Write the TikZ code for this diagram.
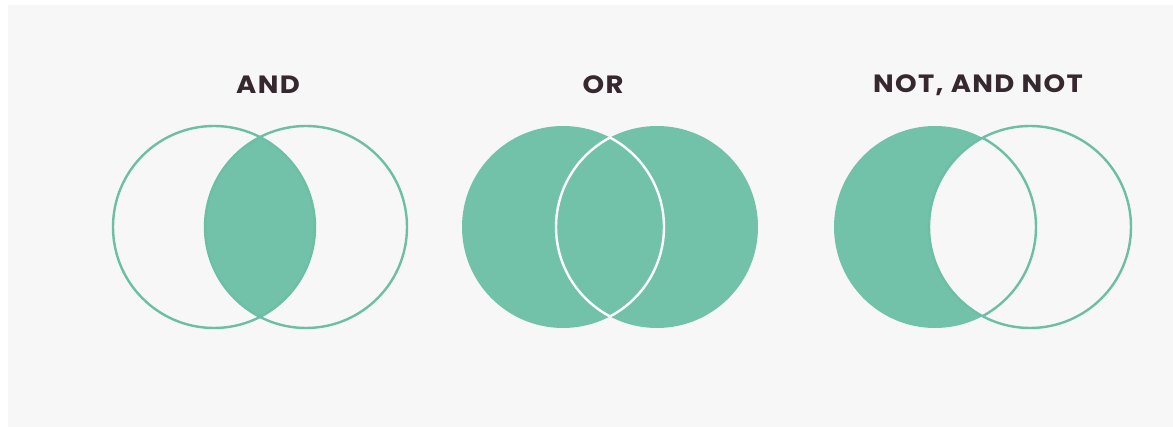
\documentclass[tikz,border=0pt]{standalone}
\usepackage{fontspec}
\newfontfamily\titlefont{Poppins}[LetterSpace=5]
\definecolor{bg}{HTML}{F7F7F7}
\definecolor{venn}{HTML}{72C2A9}
\definecolor{vennline}{HTML}{6CBFA5}
\definecolor{titlecol}{HTML}{35282F}
\begin{document}
\begin{tikzpicture}[x=1pt,y=1pt,
  title/.style={font=\titlefont\bfseries\fontsize{25}{29}\selectfont, text=titlecol, inner sep=0pt, xscale=1.1},
  ring/.style={draw=vennline, line width=2.4pt},
  whitering/.style={draw=white, line width=2.4pt}]
\useasboundingbox (0,0) rectangle (1173,427);
\fill[white] (0,0) rectangle (1173,427);
\fill[bg] (8,0) rectangle (1173,422);
\def\R{101}
% ---------- AND ----------
\coordinate (a1) at (214,200);
\coordinate (a2) at (306,200);
\begin{scope}
  \clip (a1) circle (\R);
  \fill[venn] (a2) circle (\R);
\end{scope}
\draw[ring] (a1) circle (\R);
\draw[ring] (a2) circle (\R);
\node[title] (tand) at (268,342) {AND};
% ---------- OR ----------
\coordinate (o1) at (563,200);
\coordinate (o2) at (657,200);
\fill[venn] (o1) circle (\R);
\fill[venn] (o2) circle (\R);
\begin{scope}
  \clip (o2) circle (\R);
  \draw[whitering] (o1) circle (\R);
\end{scope}
\begin{scope}
  \clip (o1) circle (\R);
  \draw[whitering] (o2) circle (\R);
\end{scope}
\node[title] (tor) at (603,342) {OR};
% ---------- NOT, AND NOT ----------
\coordinate (n1) at (935,200);
\coordinate (n2) at (1030,200);
\fill[venn] (n1) circle (\R);
\fill[bg] (n2) circle (\R);
\draw[ring] (n2) circle (\R);
\begin{scope}
  \clip (n2) circle (\R);
  \draw[ring] (n1) circle (\R);
\end{scope}
\node[title] (tnot) at (978,342) {NOT, AND NOT};
\end{tikzpicture}
\end{document}
